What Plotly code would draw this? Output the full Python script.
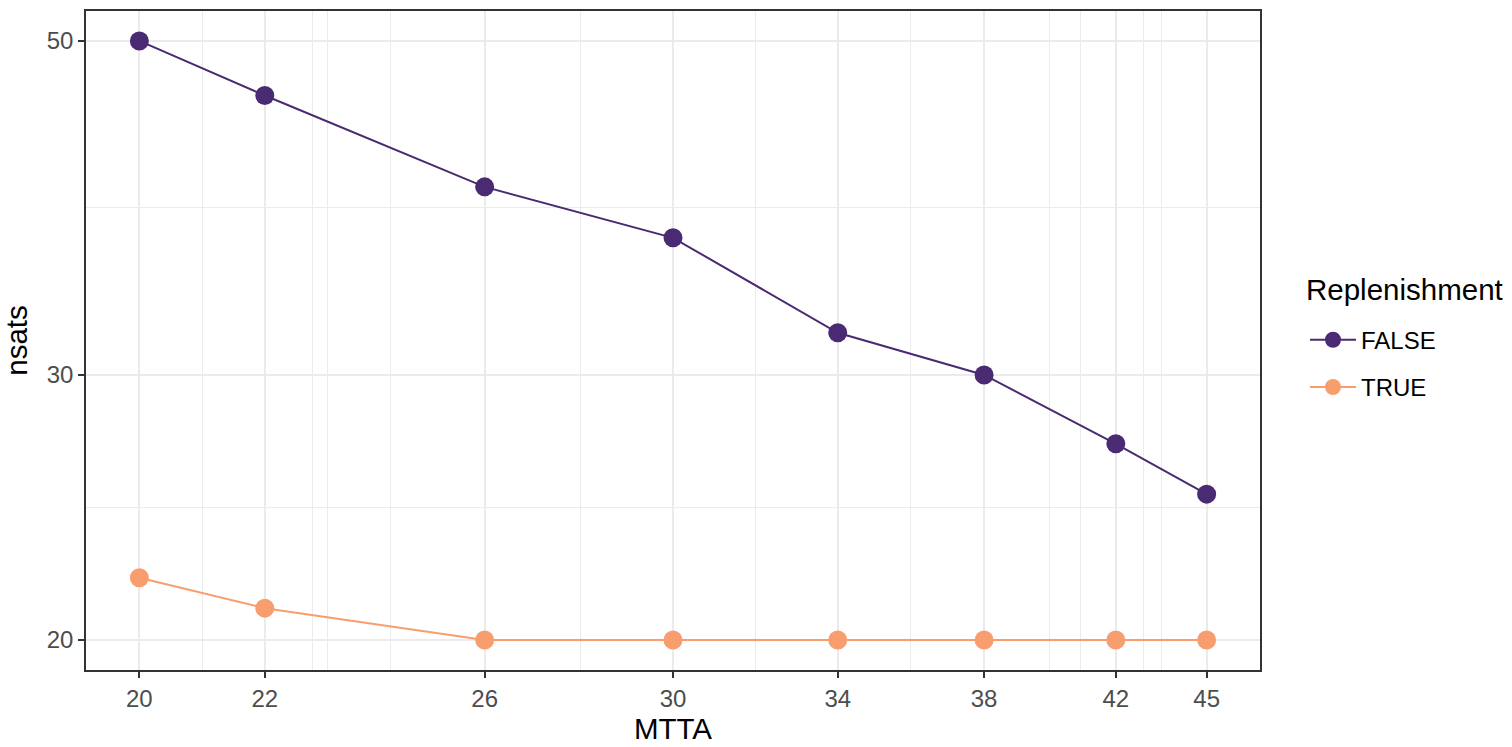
import numpy as np
import plotly.graph_objects as go

# MTTA values (x) and satellite counts for each replenishment setting
mtta = [20, 22, 26, 30, 34, 38, 42, 45]
nsats_false = [50, 46, 40, 37, 32, 30, 27, 25]
nsats_true = [22, 21, 20, 20, 20, 20, 20, 20]

x_breaks = [20, 22, 26, 30, 34, 38, 42, 45]
y_breaks = [20, 30, 50]
x_minor = [20.98, 22.82, 23.07, 24.2, 27.96, 31.93, 35.94, 39.94, 40.9, 42.9, 43.47]
y_minor = list(np.sqrt(np.array(y_breaks[:-1]) * np.array(y_breaks[1:])))

col_false = "#4A2A72"
col_true = "#F89E6E"
font = "Liberation Sans, Arial, sans-serif"

fig = go.Figure()
for name, vals, col, grp in [("FALSE", nsats_false, col_false, "a"),
                             ("TRUE", nsats_true, col_true, "b")]:
    fig.add_trace(go.Scatter(
        x=mtta, y=vals, name=name, mode="lines+markers", legendgroup=grp,
        line=dict(color=col, width=2),
        marker=dict(color=col, size=19),
    ))

def xpad(lo, hi):
    a, b = np.log10(lo), np.log10(hi)
    d = (b - a) * 0.05
    return [a - d, b + d]

grid_major = "#EBEBEB"
axis_common = dict(
    type="log", showline=True, linecolor="#333333", linewidth=1.5, mirror=True,
    ticks="outside", ticklen=6, tickwidth=1.5, tickcolor="#333333",
    tickfont=dict(family=font, size=24, color="#4D4D4D"),
    showgrid=True, gridcolor=grid_major, gridwidth=2, zeroline=False,
    tickmode="array",
)

fig.update_layout(
    width=1512, height=747,
    margin=dict(l=86, r=252, t=9, b=74),
    plot_bgcolor="white", paper_bgcolor="white",
    font=dict(family=font, color="black"),
    xaxis=dict(
        **axis_common, range=xpad(20, 45),
        tickvals=x_breaks, ticktext=[str(v) for v in x_breaks],
        title=dict(text="MTTA", font=dict(family=font, size=29.5, color="black"), standoff=6),
        minor=dict(tickmode="array", tickvals=x_minor, showgrid=True,
                   gridcolor=grid_major, gridwidth=1, ticks=""),
    ),
    yaxis=dict(
        **axis_common, range=xpad(20, 50),
        tickvals=y_breaks, ticktext=[str(v) for v in y_breaks],
        title=dict(text="nsats", font=dict(family=font, size=29.5, color="black"), standoff=10),
        minor=dict(tickmode="array", tickvals=y_minor, showgrid=True,
                   gridcolor=grid_major, gridwidth=1, ticks=""),
    ),
    legend=dict(
        font=dict(family=font, size=24, color="black"),
        x=(1305 - 86) / 1174, xanchor="left", y=(673 - 318) / 664, yanchor="top",
        tracegroupgap=13, itemwidth=46, bgcolor="rgba(0,0,0,0)",
    ),
    annotations=[dict(
        text="Replenishment", xref="paper", yref="paper",
        x=(1304 - 86) / 1174, y=(673 - 290) / 664, xanchor="left", yanchor="middle",
        showarrow=False, font=dict(family=font, size=29.5, color="black"),
    )],
)

fig.write_html("out.html")
